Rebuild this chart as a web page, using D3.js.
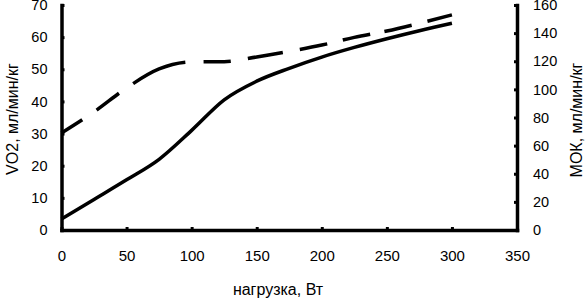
<!DOCTYPE html>
<html><head><meta charset="utf-8">
<script src="https://cdn.jsdelivr.net/npm/d3@7"></script>
<style>
html,body{margin:0;padding:0;background:#fff;}
text{font-family:"Liberation Sans",Arial,sans-serif;fill:#000;}
</style></head>
<body><svg id="c" width="588" height="301"></svg>
<script>
const loads = [0, 25, 50, 75, 100, 125, 150, 175, 200, 225, 250, 275, 300];
const vo2 = [3.4, 9.5, 15.6, 22, 31, 40.5, 46.3, 50.3, 53.8, 56.8, 59.5, 62, 64.3];
const mok = [69, 84, 101, 114.5, 119.5, 119.7, 123, 127, 131.5, 137, 141.5, 147, 153];
const xTicks = [0, 50, 100, 150, 200, 250, 300, 350];
const yLeftTicks = [0, 10, 20, 30, 40, 50, 60, 70];
const yRightTicks = [0, 20, 40, 60, 80, 100, 120, 140, 160];
const xTitle = "нагрузка, Вт";
const yLeftTitle = "VO2, мл/мин/кг";
const yRightTitle = "МОК, мл/мин/кг";

// style: dash on/off boundaries of the dashed line, expressed along the load axis
const dashBreaks = [0, 16, 27, 44, 55, 95, 109, 130, 143, 170, 183, 204, 216, 237, 248, 269, 281, 300];

const svg = d3.select("#c");
const L = 61.5, R = 517, T = 5, B = 230;
const x = d3.scaleLinear().domain([0, 350]).range([L, R]);
const yL = d3.scaleLinear().domain([0, 70]).range([B, T]);
const yR = d3.scaleLinear().domain([0, 160]).range([B, T]);

function styleAxis(g) {
  g.select(".domain").attr("stroke", "#000").attr("stroke-width", 3.5).attr("stroke-linecap", "square");
  g.selectAll(".tick line").attr("stroke", "#000").attr("stroke-width", 3);
  g.selectAll(".tick text").attr("font-size", 14.5).attr("font-family", "Liberation Sans, Arial, sans-serif");
}

// curves
const pts1 = loads.map((t, i) => [t, vo2[i]]);
const pts2 = loads.map((t, i) => [t, mok[i]]);
svg.append("path").datum(pts1)
  .attr("d", d3.line().x(d => x(d[0])).y(d => yL(d[1])).curve(d3.curveMonotoneX))
  .attr("fill", "none").attr("stroke", "#000").attr("stroke-width", 3.5);
const dashed = svg.append("path").datum(pts2)
  .attr("d", d3.line().x(d => x(d[0])).y(d => yR(d[1])).curve(d3.curveMonotoneX))
  .attr("fill", "none").attr("stroke", "#000").attr("stroke-width", 3.5);

// compute dash array from path lengths
(function () {
  const node = dashed.node();
  const total = node.getTotalLength();
  const samples = [];
  for (let l = 0; l <= total; l += 0.25) samples.push([l, node.getPointAtLength(l).x]);
  function lenAt(t) {
    const px = x(t);
    for (const s of samples) if (s[1] >= px) return s[0];
    return total;
  }
  const ls = dashBreaks.map(lenAt);
  const arr = [];
  for (let i = 1; i < ls.length; i++) arr.push(Math.max(0.1, ls[i] - ls[i - 1]));
  arr.push(50);
  dashed.attr("stroke-dasharray", arr.join(","));
})();

// axes
const gx = svg.append("g").attr("transform", `translate(0,${B})`)
  .call(d3.axisBottom(x).tickValues(xTicks).tickSizeInner(-3).tickSizeOuter(0).tickPadding(20).tickFormat(d3.format("d")));
styleAxis(gx);
gx.selectAll(".tick text").attr("font-size", 15);

const gl = svg.append("g").attr("transform", `translate(${L},0)`)
  .call(d3.axisLeft(yL).tickValues(yLeftTicks).tickSizeInner(-3).tickSizeOuter(0).tickPadding(14).tickFormat(d3.format("d")));
styleAxis(gl);

const gr = svg.append("g").attr("transform", `translate(${R},0)`)
  .call(d3.axisRight(yR).tickValues(yRightTicks).tickSizeInner(-3).tickSizeOuter(0).tickPadding(16).tickFormat(d3.format("d")));
styleAxis(gr);

// titles
svg.append("text").attr("x", 278).attr("y", 295).attr("text-anchor", "middle")
  .attr("font-size", 16).text(xTitle);
svg.append("text").attr("transform", `translate(18,119) rotate(-90)`).attr("text-anchor", "middle")
  .attr("font-size", 16).text(yLeftTitle);
svg.append("text").attr("transform", `translate(582,120) rotate(-90)`).attr("text-anchor", "middle")
  .attr("font-size", 16).text(yRightTitle);
</script></body></html>
